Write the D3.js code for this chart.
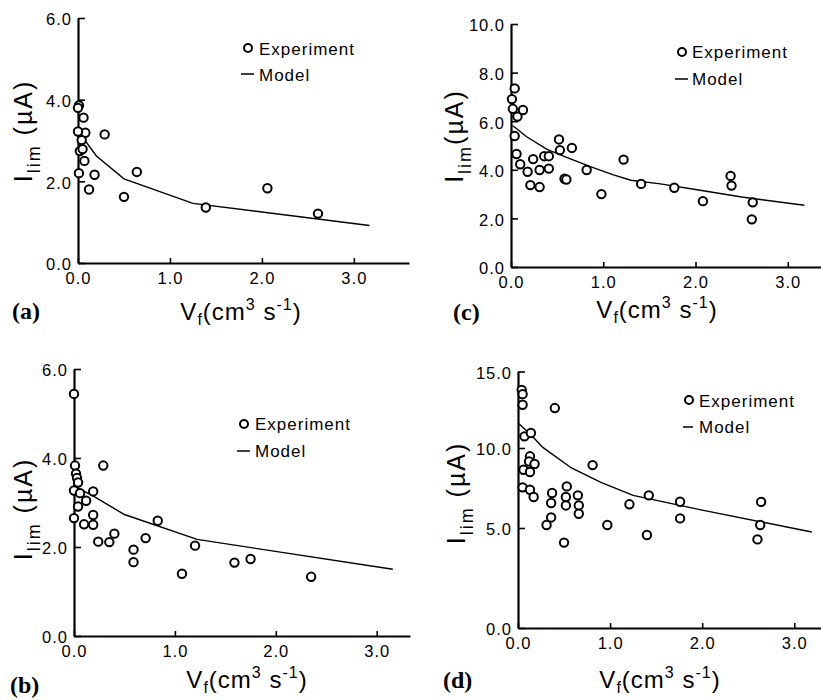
<!DOCTYPE html>
<html><head><meta charset="utf-8">
<script src="https://cdn.jsdelivr.net/npm/d3@7"></script>
<style>
body{margin:0;background:#fff}
svg{display:block}
</style></head><body>
<svg id="c" width="821" height="700"></svg>
<script>
// ---------- DATA ----------
// Panel (a)
const aExpX = [0.01,0.00,0.06,0.08,0.29,0.00,0.04,0.02,0.05,0.07,0.01,0.18,0.64,0.12,0.50,1.39,2.06,2.61];
const aExpY = [3.86,3.80,3.56,3.19,3.15,3.22,3.01,2.74,2.79,2.50,2.20,2.16,2.23,1.80,1.62,1.36,1.83,1.21];
const aModelX = [0.02,0.08,0.20,0.50,1.25,3.17];
const aModelY = [3.28,2.99,2.62,2.06,1.46,0.92];
const aTicksX = [0,1,2,3];
const aTicksY = [0,2,4,6];

// Panel (c)
const cExpX = [0.01,0.04,0.02,0.07,0.13,0.04,0.06,0.10,0.18,0.24,0.21,0.31,0.31,0.36,0.41,0.41,0.52,0.53,0.58,0.60,0.66,0.82,0.98,1.22,1.41,1.77,2.08,2.38,2.39,2.62,2.61];
const cExpY = [6.91,7.35,6.51,6.19,6.46,5.39,4.65,4.23,3.92,4.44,3.37,3.29,3.99,4.56,4.56,4.05,5.25,4.81,3.63,3.60,4.90,3.99,3.00,4.42,3.42,3.26,2.71,3.75,3.35,2.66,1.96];
const cModelX = [0.02,0.17,0.39,0.61,0.86,1.11,1.30,1.62,2.00,2.50,3.18];
const cModelY = [5.81,5.36,4.84,4.50,4.13,3.79,3.57,3.42,3.19,2.88,2.54];
const cTicksX = [0,1,2,3];
const cTicksY = [0,2,4,6,8,10];

// Panel (b)
const bExpX = [0.00,0.01,0.02,0.03,0.04,0.00,0.00,0.06,0.04,0.12,0.19,0.10,0.19,0.19,0.24,0.29,0.35,0.40,0.59,0.59,0.71,0.83,1.07,1.20,1.59,1.75,2.35];
const bExpY = [5.44,3.83,3.65,3.55,3.45,3.27,2.65,3.21,2.91,3.04,3.25,2.51,2.72,2.50,2.12,3.83,2.11,2.30,1.94,1.66,2.20,2.59,1.40,2.03,1.65,1.73,1.33];
const bModelX = [0.01,0.20,0.50,1.22,3.16];
const bModelY = [3.36,3.13,2.73,2.17,1.50];
const bTicksX = [0,1,2,3];
const bTicksY = [0,2,4,6];

// Panel (d)
const dExpX = [0.04,0.05,0.05,0.40,0.07,0.14,0.13,0.12,0.18,0.06,0.13,0.05,0.13,0.17,0.37,0.36,0.36,0.31,0.53,0.52,0.52,0.50,0.65,0.66,0.66,0.81,0.97,1.21,1.42,1.40,1.76,1.76,2.64,2.63,2.60];
const dExpY = [13.80,13.52,12.83,12.61,10.76,10.98,9.48,9.16,9.00,8.64,8.50,7.54,7.39,6.94,7.19,6.56,5.66,5.19,7.60,6.94,6.41,4.27,7.04,6.41,5.89,8.93,5.19,6.48,7.04,4.65,6.64,5.60,6.63,5.19,4.43];
const dModelX = [0.00,0.14,0.27,0.58,0.90,1.25,2.00,3.19];
const dModelY = [11.63,10.87,10.04,8.75,7.85,7.04,6.12,4.80];
const dTicksX = [0,1,2,3];
const dTicksY = [0,5,10,15];

const legendLabels = ["Experiment","Model"];
const panelLetters = ["(a)","(b)","(c)","(d)"];

// ---------- LAYOUT ----------
const SANS = "'Liberation Sans',Arial,Helvetica,sans-serif";
const SERIF = "'Liberation Serif','Times New Roman',serif";
const panels = [
  {letter:panelLetters[0], ex:aExpX, ey:aExpY, mx:aModelX, my:aModelY, tx:aTicksX, ty:aTicksY,
   xDom:[0,3.6], xRng:[78,409], yDom:[0,6], yRng:[263,18],
   leg:{cx:248, cy:48, tx:259, t1:54.5, ly:74, t2:81, lx1:241, lx2:254},
   xl:{x:241, y:320}, yl:{x:32, y:131, space:true}, pl:{x:12, y:319}},
  {letter:panelLetters[2], ex:cExpX, ey:cExpY, mx:cModelX, my:cModelY, tx:cTicksX, ty:cTicksY,
   xDom:[0,3.36], xRng:[511,821], yDom:[0,10], yRng:[267,24],
   leg:{cx:682, cy:52, tx:692, t1:58, ly:79, t2:85, lx1:675, lx2:688},
   xl:{x:657, y:318}, yl:{x:463, y:136, space:false}, pl:{x:453, y:320}},
  {letter:panelLetters[1], ex:bExpX, ey:bExpY, mx:bModelX, my:bModelY, tx:bTicksX, ty:bTicksY,
   xDom:[0,3.33], xRng:[74,410], yDom:[0,6], yRng:[636,369],
   leg:{cx:244, cy:424, tx:255, t1:430, ly:451, t2:457, lx1:237, lx2:250},
   xl:{x:247, y:688}, yl:{x:32, y:509, space:true}, pl:{x:10, y:693}},
  {letter:panelLetters[3], ex:dExpX, ey:dExpY, mx:dModelX, my:dModelY, tx:dTicksX, ty:dTicksY,
   xDom:[0,3.29], xRng:[518,821], yDom:[0,5,10,15], yRng:[628,528,448,371.5],
   leg:{cx:689, cy:400, tx:699, t1:407, ly:427, t2:433, lx1:683, lx2:693},
   xl:{x:660, y:688}, yl:{x:465, y:493, space:true}, pl:{x:443, y:688}}
];

const svg = d3.select("#c");
const fmt = d3.format(".1f");

panels.forEach(p => {
  const g = svg.append("g");
  const x = d3.scaleLinear().domain(p.xDom).range(p.xRng);
  const y = d3.scaleLinear().domain(p.yDom).range(p.yRng);
  const y0 = y(0), x0 = x(0);

  const xa = g.append("g").attr("transform", `translate(0,${y0})`)
    .call(d3.axisBottom(x).tickValues(p.tx).tickFormat(fmt).tickSizeInner(-5).tickSizeOuter(0).tickPadding(9));
  const ya = g.append("g").attr("transform", `translate(${x0},0)`)
    .call(d3.axisLeft(y).tickValues(p.ty).tickFormat(fmt).tickSizeInner(-7).tickSizeOuter(0).tickPadding(6));
  [xa, ya].forEach(a => {
    a.select(".domain").attr("stroke", "#000").attr("stroke-width", 2.2);
    a.selectAll(".tick line").attr("stroke", "#000").attr("stroke-width", 1.6);
    a.selectAll(".tick text").attr("font-size", 16.5).attr("letter-spacing", "1px")
      .attr("font-family", SANS).attr("fill", "#000");
  });
  ya.selectAll(".tick text").attr("dy", "0.42em");

  // model line
  const line = d3.line().x(d => x(d[0])).y(d => y(d[1]));
  g.append("path").datum(p.mx.map((v, i) => [v, p.my[i]]))
    .attr("d", line).attr("fill", "none").attr("stroke", "#000").attr("stroke-width", 1.4);

  // experiment circles
  g.selectAll("circle.pt").data(p.ex.map((v, i) => [v, p.ey[i]])).join("circle")
    .attr("class", "pt").attr("cx", d => x(d[0])).attr("cy", d => y(d[1])).attr("r", 4.2)
    .attr("fill", "#fff").attr("stroke", "#000").attr("stroke-width", 2);

  // legend
  const L = p.leg;
  g.append("circle").attr("cx", L.cx).attr("cy", L.cy).attr("r", 4)
    .attr("fill", "#fff").attr("stroke", "#000").attr("stroke-width", 2);
  g.append("text").attr("x", L.tx).attr("y", L.t1).attr("font-family", SANS).attr("font-size", 17)
    .attr("letter-spacing", "1px").text(legendLabels[0]);
  g.append("line").attr("x1", L.lx1).attr("x2", L.lx2).attr("y1", L.ly).attr("y2", L.ly)
    .attr("stroke", "#000").attr("stroke-width", 1.5);
  g.append("text").attr("x", L.tx).attr("y", L.t2).attr("font-family", SANS).attr("font-size", 17)
    .attr("letter-spacing", "1px").text(legendLabels[1]);

  // x label
  const xt = g.append("text").attr("x", p.xl.x).attr("y", p.xl.y).attr("text-anchor", "middle")
    .attr("font-family", SANS).attr("font-size", 24).attr("letter-spacing", "1px");
  xt.append("tspan").text("V");
  xt.append("tspan").attr("font-size", 16).attr("dy", 5).text("f");
  xt.append("tspan").attr("dy", -5).text("(cm");
  xt.append("tspan").attr("font-size", 16).attr("dy", -10).text("3");
  xt.append("tspan").attr("dy", 10).text(" s");
  xt.append("tspan").attr("font-size", 16).attr("dy", -10).text("-1");
  xt.append("tspan").attr("dy", 10).text(")");

  // y label
  const yt = g.append("text").attr("transform", `translate(${p.yl.x},${p.yl.y}) rotate(-90)`)
    .attr("text-anchor", "middle").attr("font-family", SANS).attr("font-size", 25).attr("letter-spacing", "2px");
  yt.append("tspan").text("I");
  yt.append("tspan").attr("font-size", 18).attr("dy", 8).text("lim");
  yt.append("tspan").attr("dy", -8).text(p.yl.space ? " (\u00B5A)" : "(\u00B5A)");

  // panel letter
  g.append("text").attr("x", p.pl.x).attr("y", p.pl.y).attr("font-size", 24)
    .attr("font-weight", "bold").attr("font-family", SERIF).text(p.letter);
});
</script>
</body></html>
